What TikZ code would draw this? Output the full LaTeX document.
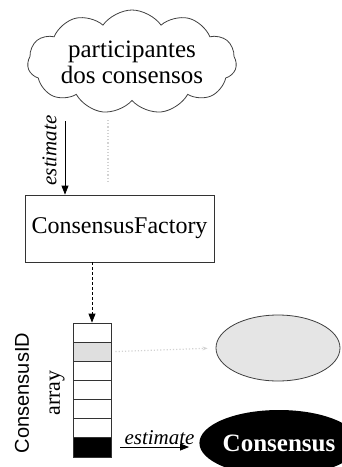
\documentclass[tikz,border=0pt]{standalone}
\usepackage{fontspec}
\setmainfont{Liberation Serif}
\setsansfont{Liberation Sans}
\usetikzlibrary{arrows.meta,positioning,shapes.symbols,shapes.geometric}

\begin{document}
\begin{tikzpicture}[x=1pt,y=-1pt,line width=0.8pt,
	tip/.style={-{Triangle[length=9pt,width=7pt]}},
	faint/.style={draw=gray!35,dotted,line width=1.2pt},
	cell/.style={draw=black!80,minimum width=38pt,minimum height=19.14pt,inner sep=0pt}]
	\useasboundingbox (0,0) rectangle (341,467);
	\node[cloud,draw=black!75,cloud puffs=11,cloud puff arc=110,aspect=2.2,minimum width=209pt,minimum height=104pt,align=center,inner sep=-9pt,font=\fontsize{25}{26}\selectfont] (cloud) at (132,62) {participantes\\dos consensos};
	\node[draw=black!80,minimum width=189pt,minimum height=67pt,font=\fontsize{24}{26}\selectfont] (fac) at (119.5,228.5) {ConsensusFactory};
	\foreach \i/\shade in {1/white,2/gray!25,3/white,4/white,5/white,6/white,7/black}
		\node[cell,fill=\shade] (c\i) at (92,{323+19.14*(\i-0.5)}) {};
	\node[rotate=90,font=\sffamily\fontsize{20}{22}\selectfont] (idlabel) at (22,393) {ConsensusID};
	\node[rotate=90,font=\fontsize{22}{24}\selectfont] (arraylabel) at (57,393) {array};
	\node[ellipse,draw=black!75,fill=gray!20,minimum width=124pt,minimum height=66pt] (pool) at (278,348) {};
	\node[ellipse,fill=black,text=white,minimum width=128pt,minimum height=66pt,inner sep=0pt,font=\bfseries\fontsize{25}{27}\selectfont] (cons) at (279,443) {Consensus};
	\coordinate (e1) at (65,121);
	\coordinate (g1) at (108,120);
	\coordinate (e2) at (120,447);
	\draw[tip] (e1) -- (fac.north -| e1) node[pos=0.4,rotate=90,anchor=south,inner sep=8pt,font=\itshape\fontsize{21}{23}\selectfont] {estimate};
	\draw[faint,shorten >=12pt] (g1) -- (fac.north -| g1);
	\draw[tip,densely dashed] (fac.south -| c1) -- (c1.north);
	\draw[faint,-{Stealth[length=5pt]},shorten <=4pt,shorten >=8pt] (c2.east) -- (pool.west);
	\draw[tip,shorten >=10pt] (e2) -- (e2 -| cons.west) node[midway,above,inner sep=2pt,font=\itshape\fontsize{21}{23}\selectfont] {estimate};
\end{tikzpicture}
\end{document}
